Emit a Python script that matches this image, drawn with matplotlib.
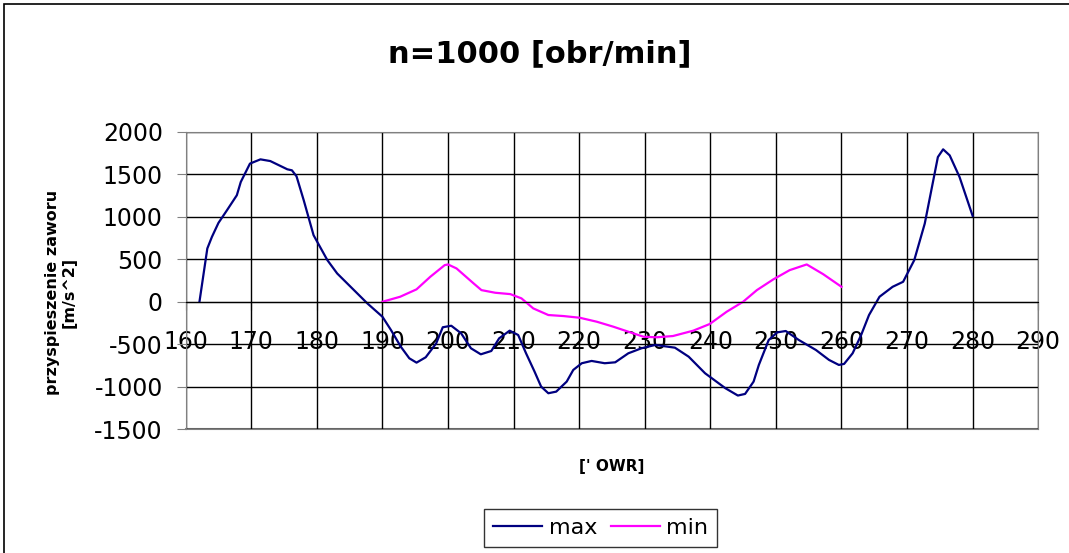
import matplotlib.pyplot as plt
from matplotlib.patches import Rectangle

plt.rcParams["font.family"] = ["DejaVu Sans"]
plt.rcParams["axes.unicode_minus"] = False

# crank angle [deg] and valve acceleration [m/s^2]
max_x = [162.1, 163.3, 164.0, 165.0, 166.3, 167.8, 168.4, 169.8, 171.4, 172.9,
         175.5, 176.2, 176.9, 178.0, 179.5, 181.6, 183.1, 187.7, 190.0, 191.3,
         192.8, 194.1, 195.2, 196.6, 198.2, 199.2, 200.5, 202.0, 203.5, 205.0,
         206.6, 207.8, 209.4, 210.7, 211.9, 213.2, 214.2, 215.3, 216.5, 218.1,
         219.1, 220.4, 221.9, 223.9, 225.5, 227.5, 229.5, 231.6, 234.6, 236.7,
         239.2, 242.3, 244.2, 245.3, 246.6, 247.4, 248.9, 250.2, 251.5, 253.5,
         256.1, 258.1, 259.6, 260.4, 261.7, 263.0, 264.2, 265.8, 267.8, 269.4,
         271.1, 272.7, 274.7, 275.5, 276.5, 278.0, 280.0]
max_y = [0, 627, 763, 928, 1077, 1253, 1409, 1625, 1675, 1655,
         1558, 1546, 1476, 1194, 783, 490, 333, -19, -176, -332,
         -528, -665, -716, -653, -489, -300, -282, -371, -547, -618,
         -579, -430, -340, -391, -606, -822, -998, -1076, -1057, -939,
         -802, -723, -696, -723, -712, -606, -547, -508, -540, -646,
         -841, -1017, -1103, -1084, -939, -743, -450, -360, -344, -450,
         -567, -684, -743, -731, -606, -391, -156, 59, 176, 235,
         490, 920, 1702, 1793, 1722, 1468, 1010]

min_x = [190.0, 192.7, 195.2, 197.3, 199.5, 200.0, 201.3, 203.9, 205.1, 207.2,
         209.5, 211.2, 213.0, 215.3, 217.6, 220.1, 222.7, 225.2, 227.8, 229.8,
         231.8, 234.3, 237.4, 239.9, 242.5, 245.0, 247.1, 249.6, 252.1, 254.7,
         257.2, 260.0]
min_y = [0, 59, 146, 294, 431, 439, 392, 216, 137, 106,
         90, 40, -78, -156, -168, -188, -235, -293, -360, -411,
         -418, -403, -340, -262, -117, 0, 137, 263, 372, 439,
         325, 176]

x_ticks = list(range(160, 300, 10))
y_ticks = list(range(-1500, 2500, 500))

fig = plt.figure(figsize=(10.69, 5.53), dpi=100)
ax = fig.add_axes([0.1737, 0.2237, 0.7975, 0.5381])

ax.plot(max_x, max_y, color="#000080", lw=1.6, label="max")
ax.plot(min_x, min_y, color="#FF00FF", lw=1.6, label="min")

ax.set_xlim(160, 290)
ax.set_ylim(-1500, 2000)
ax.set_xticks(x_ticks)
ax.set_yticks(y_ticks)
ax.grid(True, color="black", lw=1)
ax.set_axisbelow(True)

for side in ["top", "right", "left"]:
    ax.spines[side].set_color("#808080")
ax.spines["bottom"].set_position(("data", 0))
ax.spines["bottom"].set_color("black")
ax.axhline(-1500, color="#808080", lw=1.5, clip_on=False, zorder=0)

ax.tick_params(axis="x", labelsize=17, length=6, pad=14, direction="out")
ax.tick_params(axis="y", labelsize=17, length=6.5, pad=10, color="#808080")

ax.set_ylabel("przyspieszenie zaworu\n[m/s^2]", fontsize=11.5,
              fontweight="bold")
ax.yaxis.set_label_coords(-0.1275, 0.461)
ax.set_xlabel("[' OWR]", fontsize=11, fontweight="bold")
ax.xaxis.set_label_coords(0.5, -0.1)

fig.text(0.505, 0.902, "n=1000 [obr/min]", ha="center", va="center",
         fontsize=22, fontweight="bold")

fig.legend(loc="upper center", bbox_to_anchor=(0.562, 0.0796), ncol=2,
           fontsize=16, frameon=True, fancybox=False, edgecolor="black",
           borderaxespad=0, handlelength=2.2, columnspacing=0.6,
           handletextpad=0.3, borderpad=0.4)

fig.patches.append(Rectangle((4 / 1069, -0.1), 1.2, 1.093,
                             transform=fig.transFigure, fill=False,
                             edgecolor="black", lw=1.2))

fig.savefig("out.png", dpi=100)
